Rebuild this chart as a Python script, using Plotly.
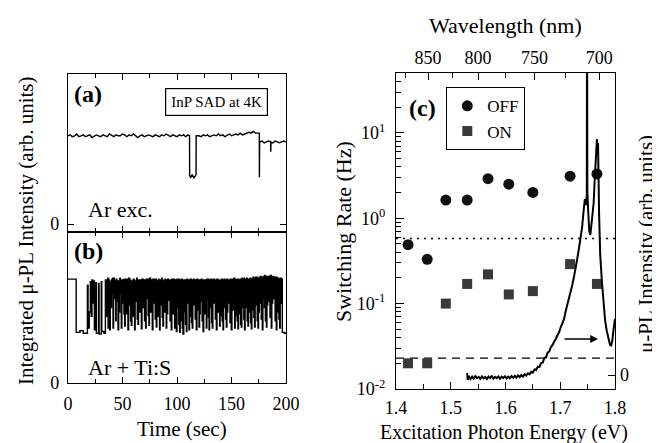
import plotly.graph_objects as go

# ---------------- Panel (a): Ar excitation trace ----------------
t_a = [0, 2, 4, 6, 8, 10, 12, 14, 16, 18, 20, 22, 24, 26, 28, 30, 32, 34, 36, 38, 40, 42, 44, 46, 48, 50,
       52, 54, 56, 58, 60, 62, 64, 66, 68, 70, 72, 74, 76, 78, 80, 82, 84, 86, 88, 90, 92, 94, 96, 98, 100,
       102, 104, 106, 108, 110, 111.5, 111.6, 112.5, 114, 115.5, 117, 117.5, 117.6,
       120, 122, 124, 126, 128, 130, 132, 134, 136, 138, 140, 142, 144, 146, 148, 150, 152, 154, 156, 158,
       160, 162, 164, 166, 168, 170, 172, 174, 175.5, 175.6, 175.8, 178, 180, 182, 184, 185.9, 186, 186.2,
       188, 190, 192, 194, 196, 198, 200]
I_a = [1.00, 1.01, 0.99, 1.00, 1.02, 0.99, 1.00, 1.01, 0.99, 1.00, 1.01, 0.98, 1.00, 1.01, 1.00, 0.99,
       1.01, 1.00, 0.99, 1.02, 1.00, 0.99, 1.01, 1.00, 1.00, 1.02, 1.01, 0.99, 1.01, 1.00, 1.02, 1.00,
       0.98, 1.00, 1.01, 0.99, 1.00, 1.01, 1.00, 0.99, 1.01, 1.00, 0.99, 1.01, 1.00, 1.02, 1.00, 0.99,
       1.01, 1.00, 0.99, 1.01, 1.00, 1.01, 0.99, 1.01, 1.00, 0.55, 0.53, 0.56, 0.52, 0.55, 0.56, 1.00,
       1.00, 0.99, 1.01, 1.00, 1.01, 0.99, 1.00, 1.01, 1.00, 1.02, 1.00, 1.01, 0.99, 1.01, 1.02, 1.00,
       1.01, 1.02, 1.01, 1.03, 1.01, 1.02, 1.03, 1.04, 1.03, 1.05, 1.03, 1.03, 1.03, 0.53, 0.93, 0.94,
       0.92, 0.93, 0.94, 0.93, 0.82, 0.93, 0.92, 0.94, 0.93, 0.92, 0.93, 0.94, 0.93]

# ---------------- Panel (b): Ar + Ti:S telegraph trace (switch time, level after switch) -------------
b_start = [(0, 1.17), (7.5, 0.57), (11, 0.59), (14, 0.56), (17.8, 1.10), (18.4, 0.62), (19.5, 0.80),
           (20.5, 1.14), (21.3, 0.75), (22.0, 1.16), (22.8, 0.90), (23.4, 1.15), (24.2, 0.60), (25.5, 1.13),
           (26.0, 0.56), (28.0, 1.12), (28.5, 0.55), (30.5, 1.14), (31.0, 0.58), (33.0, 0.56), (34.3, 1.16)]
# (drop time, drop level, drop duration, recovered level)
b_drops = [(35.5, 0.75, 0.4, 1.15), (36.2, 0.95, 0.2, 1.18), (36.8, 0.62, 0.5, 1.17), (37.6, 0.90, 0.2, 1.15),
           (38.2, 0.60, 0.6, 1.14), (39.6, 0.85, 0.3, 1.16), (40.5, 1.00, 0.2, 1.18),
           (41.3, 0.62, 0.5, 1.18), (42.5, 0.95, 0.3, 1.15), (43.8, 0.70, 0.4, 1.17), (44.9, 0.92, 0.2, 1.15),
           (45.9, 0.60, 0.6, 1.15), (47.2, 0.80, 0.3, 1.18), (48.0, 1.00, 0.2, 1.16),
           (48.9, 0.62, 0.5, 1.16), (50.5, 0.90, 0.3, 1.14), (51.3, 0.78, 0.2, 1.17), (52.0, 0.64, 0.5, 1.17),
           (53.4, 0.78, 0.4, 1.15), (54.3, 0.98, 0.2, 1.17), (55.0, 0.60, 0.6, 1.18), (56.6, 0.88, 0.3, 1.16),
           (57.4, 0.70, 0.2, 1.15), (58.1, 0.65, 0.5, 1.15),
           (59.5, 0.75, 0.4, 1.17), (60.4, 0.96, 0.2, 1.16), (61.1, 0.60, 0.5, 1.15), (62.7, 0.92, 0.3, 1.18),
           (63.5, 0.72, 0.2, 1.15), (64.2, 0.66, 0.5, 1.16),
           (65.8, 0.80, 0.3, 1.14), (66.6, 0.98, 0.2, 1.16), (67.3, 0.61, 0.6, 1.17), (69.0, 0.85, 0.3, 1.15),
           (70.2, 0.70, 0.2, 1.16), (71.2, 0.62, 0.5, 1.17),
           (72.7, 0.95, 0.3, 1.16), (73.5, 0.76, 0.2, 1.17), (74.3, 0.65, 0.4, 1.18), (75.8, 0.80, 0.3, 1.15),
           (76.6, 0.97, 0.2, 1.16), (77.3, 0.60, 0.6, 1.17),
           (79.0, 0.90, 0.3, 1.16), (80.0, 0.72, 0.2, 1.17), (81.0, 0.63, 0.5, 1.15), (82.5, 0.75, 0.4, 1.17),
           (83.3, 0.95, 0.2, 1.15), (84.0, 0.60, 0.5, 1.16),
           (85.6, 0.88, 0.3, 1.18), (86.4, 0.74, 0.2, 1.16), (87.1, 0.64, 0.5, 1.15), (88.6, 0.80, 0.3, 1.17),
           (89.4, 0.99, 0.2, 1.15), (90.1, 0.62, 0.5, 1.16),
           (91.3, 0.78, 0.2, 1.17), (92.3, 0.93, 0.3, 1.15), (93.6, 0.70, 0.2, 1.16), (94.7, 0.60, 0.6, 1.17),
           (96.2, 0.78, 0.3, 1.16), (97.0, 0.96, 0.2, 1.17), (97.8, 0.62, 0.5, 1.15),
           (98.7, 0.75, 0.2, 1.16), (99.4, 0.58, 0.6, 1.17), (100.8, 0.85, 0.3, 1.16), (101.6, 0.66, 0.2, 1.17),
           (102.4, 0.57, 0.5, 1.15), (103.3, 0.92, 0.2, 1.16), (104.0, 0.70, 0.4, 1.17), (104.8, 0.62, 0.2, 1.15),
           (105.5, 0.55, 0.7, 1.16), (107.0, 0.80, 0.3, 1.15), (107.8, 0.66, 0.2, 1.16),
           (108.6, 0.58, 0.5, 1.17), (109.4, 0.96, 0.2, 1.15), (110.0, 0.90, 0.3, 1.16),
           (111.0, 0.60, 0.5, 1.15), (111.8, 0.82, 0.2, 1.17), (112.5, 0.75, 0.3, 1.17), (113.3, 0.68, 0.2, 1.15),
           (114.0, 0.62, 0.5, 1.16), (115.0, 0.97, 0.2, 1.17), (115.8, 0.88, 0.3, 1.15),
           (116.7, 0.72, 0.2, 1.16), (117.7, 0.60, 0.6, 1.17), (119.0, 0.82, 0.3, 1.16),
           (120.2, 0.63, 0.5, 1.15), (121.1, 0.78, 0.2, 1.16), (122.0, 0.92, 0.3, 1.17), (123.0, 0.70, 0.2, 1.15),
           (123.9, 0.58, 0.6, 1.16), (125.4, 0.78, 0.3, 1.15), (126.2, 0.95, 0.2, 1.16),
           (126.9, 0.62, 0.5, 1.17), (128.2, 0.95, 0.3, 1.16), (128.8, 0.74, 0.2, 1.17),
           (129.4, 0.60, 0.5, 1.15), (130.2, 0.90, 0.2, 1.16), (131.0, 0.85, 0.3, 1.17), (131.7, 0.68, 0.2, 1.15),
           (132.4, 0.62, 0.5, 1.16), (133.3, 0.98, 0.2, 1.17), (134.2, 0.90, 0.3, 1.15), (135.2, 0.72, 0.2, 1.16),
           (136.1, 0.60, 0.6, 1.17), (137.6, 0.80, 0.3, 1.16), (138.4, 0.97, 0.2, 1.15),
           (139.1, 0.64, 0.5, 1.15), (139.9, 0.76, 0.2, 1.16), (140.6, 0.92, 0.3, 1.17), (141.4, 0.70, 0.2, 1.15),
           (142.2, 0.60, 0.5, 1.16), (143.0, 0.94, 0.2, 1.17), (143.8, 0.85, 0.3, 1.15), (144.6, 0.72, 0.2, 1.16),
           (145.3, 0.63, 0.5, 1.17), (146.4, 0.80, 0.2, 1.15), (147.5, 0.90, 0.3, 1.16), (148.6, 0.68, 0.2, 1.17),
           (149.8, 0.60, 0.6, 1.17), (151.3, 0.82, 0.3, 1.16), (152.1, 0.97, 0.2, 1.18),
           (152.9, 0.62, 0.5, 1.17), (153.7, 0.76, 0.2, 1.16), (154.4, 0.95, 0.3, 1.15), (155.2, 0.70, 0.2, 1.17),
           (155.9, 0.61, 0.5, 1.17), (156.7, 0.92, 0.2, 1.16), (157.5, 0.78, 0.3, 1.16), (158.3, 0.66, 0.2, 1.17),
           (159.0, 0.63, 0.5, 1.18), (159.8, 0.85, 0.2, 1.17), (160.5, 0.92, 0.3, 1.16), (161.3, 0.72, 0.2, 1.18),
           (162.0, 0.60, 0.5, 1.17), (162.8, 0.96, 0.2, 1.16), (163.6, 0.85, 0.3, 1.18), (164.4, 0.70, 0.2, 1.17),
           (165.1, 0.64, 0.5, 1.16), (165.9, 0.93, 0.2, 1.17), (166.7, 0.80, 0.3, 1.18), (167.5, 0.68, 0.2, 1.17),
           (168.2, 0.61, 0.5, 1.17), (169.0, 0.82, 0.2, 1.18), (169.7, 0.95, 0.3, 1.19), (170.5, 0.74, 0.2, 1.18),
           (171.2, 0.63, 0.5, 1.18), (172.0, 0.98, 0.2, 1.19), (172.8, 0.88, 0.3, 1.19), (173.6, 0.70, 0.2, 1.18),
           (174.3, 0.62, 0.5, 1.18), (175.3, 0.80, 0.2, 1.19), (176.3, 0.90, 0.3, 1.20), (177.3, 0.72, 0.2, 1.19),
           (178.3, 0.60, 0.5, 1.19), (179.3, 0.95, 0.2, 1.20), (180.2, 0.85, 0.3, 1.21), (181.1, 0.70, 0.2, 1.20),
           (182.0, 0.63, 0.5, 1.19), (183.1, 0.88, 0.2, 1.20), (184.2, 0.92, 0.3, 1.20), (185.3, 0.74, 0.2, 1.21),
           (186.5, 0.62, 0.5, 1.19), (187.6, 0.90, 0.2, 1.20), (188.8, 0.95, 0.3, 1.18), (190.0, 0.70, 0.2, 1.19),
           (191.1, 0.60, 0.5, 1.19), (191.9, 0.88, 0.2, 1.18), (192.7, 0.80, 0.3, 1.18), (193.5, 0.72, 0.2, 1.17),
           (194.2, 0.62, 0.5, 1.17), (195.0, 0.94, 0.2, 1.18), (195.8, 0.90, 0.3, 1.17)]
b_end = [(196.6, 0.57), (198.5, 0.56), (200, 0.57)]

# ---------------- Panel (c): switching rates ----------------
E_pts = [1.422, 1.457, 1.491, 1.530, 1.568, 1.606, 1.650, 1.718, 1.767]
rate_off = [0.49, 0.33, 1.63, 1.63, 2.9, 2.5, 2.0, 3.1, 3.3]
rate_on = [0.020, 0.020, 0.10, 0.17, 0.22, 0.128, 0.14, 0.29, 0.17]
dotted_level = 0.58
dashed_level = 0.023

# PL spectrum (right axis, arb. units)
E_pl = [1.530, 1.531, 1.533, 1.536, 1.539, 1.542, 1.545, 1.548, 1.551, 1.554, 1.557, 1.560, 1.563, 1.566,
        1.569, 1.572, 1.575, 1.578, 1.581, 1.584, 1.587, 1.590, 1.593, 1.596, 1.599, 1.602, 1.605, 1.608,
        1.611, 1.614, 1.617, 1.620, 1.623, 1.626, 1.629, 1.632, 1.635, 1.638, 1.641, 1.644, 1.647, 1.650,
        1.653, 1.656, 1.659, 1.662, 1.665, 1.668, 1.671, 1.674, 1.677, 1.680, 1.683, 1.686, 1.689, 1.692,
        1.695, 1.698, 1.701, 1.704, 1.707, 1.710, 1.713, 1.716, 1.719, 1.722, 1.725, 1.728, 1.731, 1.734,
        1.737, 1.740, 1.743, 1.745, 1.747, 1.7485, 1.7490, 1.7495, 1.751, 1.753, 1.755, 1.757, 1.759, 1.761,
        1.763, 1.765, 1.767, 1.768, 1.769, 1.771, 1.773, 1.776, 1.779, 1.782, 1.785, 1.788, 1.791, 1.793,
        1.795, 1.797, 1.800]
I_pl = [0.010, -0.025, -0.005, -0.020, -0.008, -0.018, -0.006, -0.016, -0.009, -0.019, -0.007, -0.017,
        -0.010, -0.020, -0.008, -0.015, -0.006, -0.018, -0.009, -0.016, -0.007, -0.019, -0.008, -0.015,
        -0.006, -0.017, -0.008, -0.016, -0.005, -0.014, -0.004, -0.013, -0.002, -0.011, 0.000, -0.008,
        0.004, -0.003, 0.008, 0.003, 0.016, 0.012, 0.028, 0.025, 0.042, 0.040, 0.060, 0.062, 0.085, 0.088,
        0.112, 0.118, 0.140, 0.150, 0.168, 0.180, 0.200, 0.215, 0.240, 0.258, 0.280, 0.320, 0.350, 0.380,
        0.410, 0.450, 0.490, 0.530, 0.580, 0.630, 0.680, 0.740, 0.830, 0.880, 0.850, 0.900, 2.000, 0.920,
        0.820, 0.720, 0.700, 0.760, 0.820, 0.860, 0.980, 1.120, 1.180, 1.100, 1.160, 0.800, 0.600, 0.470,
        0.350, 0.270, 0.220, 0.175, 0.150, 0.148, 0.170, 0.220, 0.280]

# Top axis: wavelength
wl_major = [850, 800, 750, 700]
wl_minor = [875, 825, 775, 725]
HC = 1239.84  # eV*nm

arrow_from, arrow_to, arrow_level = 1.705, 1.769, 0.18

# ---------------- build (b) step vertices ----------------
t_b, y_b = [], []
for t, v in b_start:
    t_b.append(t); y_b.append(v)
for t, lo, w, hi in b_drops:
    t_b += [t, t + w]; y_b += [lo, hi]
for t, v in b_end:
    t_b.append(t); y_b.append(v)

FONT = "Liberation Serif, Times New Roman, Times, serif"
# page is 660x443; the html body adds an 8px offset, so the figure is 652x435 placed at (8, 8)
OFF = 8
PW, PH = 660, 443
W, H = PW - OFF, PH - OFF


def px_x(x):
    return (x - OFF) / W


def px_y(y):
    return (PH - y) / H


fig = go.Figure()

fig.add_trace(go.Scatter(x=t_a, y=I_a, mode="lines", line=dict(color="black", width=1.4),
                         xaxis="x", yaxis="y", showlegend=False, hoverinfo="skip"))
fig.add_trace(go.Scatter(x=t_b, y=y_b, mode="lines", line=dict(color="black", width=1.4, shape="hv"),
                         xaxis="x2", yaxis="y2", showlegend=False, hoverinfo="skip"))

# panel (c)
fig.add_trace(go.Scatter(x=[1.4, 1.8], y=[dotted_level] * 2, mode="lines",
                         line=dict(color="black", width=1.5, dash="2px,5px"),
                         xaxis="x3", yaxis="y3", showlegend=False, hoverinfo="skip"))
fig.add_trace(go.Scatter(x=[1.4, 1.8], y=[dashed_level] * 2, mode="lines",
                         line=dict(color="black", width=1.3, dash="8px,6px"),
                         xaxis="x3", yaxis="y3", showlegend=False, hoverinfo="skip"))
fig.add_trace(go.Scatter(x=E_pl, y=I_pl, mode="lines", line=dict(color="black", width=2),
                         xaxis="x3", yaxis="y4", showlegend=False, hoverinfo="skip"))
fig.add_trace(go.Scatter(x=E_pts, y=rate_off, mode="markers", name="OFF",
                         marker=dict(symbol="circle", size=11, color="#111111"),
                         xaxis="x3", yaxis="y3"))
fig.add_trace(go.Scatter(x=E_pts, y=rate_on, mode="markers", name="ON",
                         marker=dict(symbol="square", size=10, color="#3a3a3a"),
                         xaxis="x3", yaxis="y3"))
fig.add_trace(go.Scatter(x=[None], y=[None], xaxis="x4", yaxis="y3", showlegend=False, hoverinfo="skip"))

tickfont = dict(family=FONT, size=18, color="black")
axis_common = dict(linecolor="black", linewidth=1.3, ticks="inside", automargin=False,
                   tickcolor="black", tickwidth=1.2, showgrid=False, zeroline=False, tickfont=tickfont)

xa_dom = [px_x(68), px_x(286)]
xc_dom = [px_x(396), px_x(615)]

fig.update_layout(
    template="none",
    width=W, height=H, margin=dict(l=0, r=0, t=0, b=0, pad=0, autoexpand=False),
    paper_bgcolor="white", plot_bgcolor="rgba(0,0,0,0)",
    font=dict(family=FONT, color="black"),
    xaxis=dict(domain=xa_dom, anchor="y", range=[0, 200], dtick=50, tick0=0, ticklen=6,
               minor=dict(dtick=25, ticklen=4, ticks="inside", tickcolor="black", showgrid=False),
               mirror="ticks", showline=True, showticklabels=False, **axis_common),
    yaxis=dict(domain=[px_y(232), px_y(74)], anchor="x", range=[-0.09, 1.70], tickvals=[0],
               ticktext=["0"], ticklen=6, mirror="ticks", showline=True, ticklabelstandoff=4, **axis_common),
    xaxis2=dict(domain=xa_dom, anchor="y2", range=[0, 200], dtick=50, tick0=0, ticklen=6,
                minor=dict(dtick=25, ticklen=4, ticks="inside", tickcolor="black", showgrid=False),
                mirror="ticks", showline=True, ticklabelstandoff=4, **axis_common),
    yaxis2=dict(domain=[px_y(383), px_y(232)], anchor="x2", range=[0, 1.70], tickvals=[0],
                ticktext=["0"], ticklen=6, mirror="ticks", showline=True, ticklabelstandoff=4, **axis_common),
    xaxis3=dict(domain=xc_dom, anchor="y3", range=[1.4, 1.8], dtick=0.1, tick0=1.4, ticklen=7,
                tickformat=".1f",
                minor=dict(dtick=0.05, ticklen=5, ticks="inside", tickcolor="black", showgrid=False),
                mirror=True, showline=True, ticklabelstandoff=2, **axis_common),
    xaxis4=dict(overlaying="x3", anchor="y3", side="top", range=[1.4, 1.8],
                tickvals=[HC / w for w in wl_major], ticktext=[str(w) for w in wl_major], ticklen=7,
                minor=dict(tickvals=[HC / w for w in wl_minor], ticklen=5, ticks="inside",
                           tickcolor="black", showgrid=False),
                ticklabelstandoff=4, showline=False, **axis_common),
    yaxis3=dict(domain=[px_y(389), px_y(73)], anchor="x3", type="log", range=[-2, 1.70],
                tickvals=[0.01, 0.1, 1, 10],
                ticktext=["10<sup>-2</sup>", "10<sup>-1</sup>", "10<sup>0</sup>", "10<sup>1</sup>"],
                ticklen=8,
                minor=dict(tickvals=[0.02, 0.03, 0.04, 0.05, 0.06, 0.07, 0.08, 0.09,
                                     0.2, 0.3, 0.4, 0.5, 0.6, 0.7, 0.8, 0.9,
                                     2, 3, 4, 5, 6, 7, 8, 9, 20, 30, 40, 50],
                           ticklen=5, ticks="inside", tickcolor="black", showgrid=False),
                mirror=True, showline=True, ticklabelstandoff=6, **axis_common),
    yaxis4=dict(overlaying="y3", anchor="x3", side="right", range=[-0.07, 1.51], tickvals=[0],
                ticktext=["0"], ticklen=7, ticklabelstandoff=4, showline=False, **axis_common),
    legend=dict(x=px_x(446), y=px_y(87), xanchor="left", yanchor="top",
                bordercolor="black", borderwidth=1.3, bgcolor="white", tracegroupgap=0,
                font=dict(family=FONT, size=17, color="black"), itemsizing="trace"),
    showlegend=True,
)

ann = []


def label(x, y, text, size=22, bold=False, angle=0, **kw):
    t = f"<b>{text}</b>" if bold else text
    ann.append(dict(x=px_x(x), y=px_y(y), xref="paper", yref="paper", text=t, showarrow=False,
                    textangle=angle, font=dict(family=FONT, size=size, color="black"),
                    xanchor="center", yanchor="middle", **kw))


label(88, 94, "(a)", size=24, bold=True)
label(88, 251, "(b)", size=24, bold=True)
label(422, 108, "(c)", size=24, bold=True)
label(120, 209, "Ar exc.", size=22)
label(129, 367, "Ar + Ti:S", size=22)
label(182, 429, "Time (sec)", size=21)
label(26, 231, "Integrated μ-PL Intensity (arb. units)", size=21, angle=-90)
label(343, 232, "Switching Rate (Hz)", size=22, angle=-90)
label(646, 244, "μ-PL Intensity (arb. units)", size=21, angle=-90)
label(504, 432, "Excitation Photon Energy (eV)", size=20)
label(505, 25, "Wavelength (nm)", size=22)
label(216, 102, "InP SAD at 4K", size=15, bordercolor="black", borderwidth=1.2, borderpad=5,
      bgcolor="white")

ann.append(dict(x=arrow_to, y=arrow_level, xref="x3", yref="y4", ax=arrow_from, ay=arrow_level,
                axref="x3", ayref="y4", showarrow=True, arrowhead=2, arrowsize=1.2, arrowwidth=1.3,
                arrowcolor="black", text=""))

fig.update_layout(annotations=ann)
fig.write_html("out.html")
